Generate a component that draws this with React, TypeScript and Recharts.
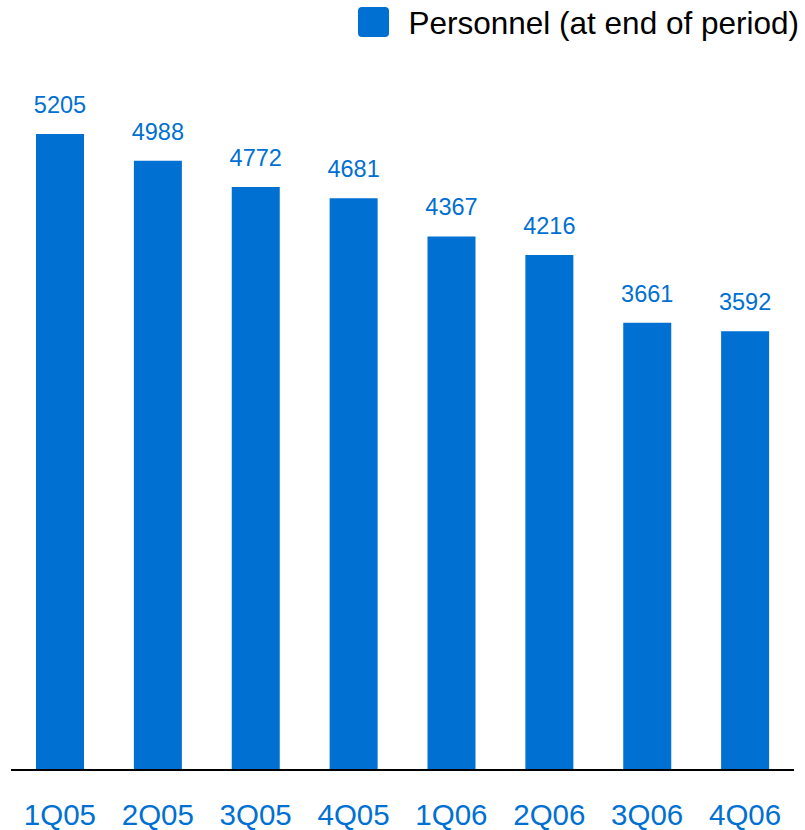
import React from "react";
import { BarChart, Bar, XAxis, YAxis, Legend, LabelList } from "recharts";

const quarters = ["1Q05", "2Q05", "3Q05", "4Q05", "1Q06", "2Q06", "3Q06", "4Q06"];
const personnel = [5205, 4988, 4772, 4681, 4367, 4216, 3661, 3592];
const seriesName = "Personnel (at end of period)";

const BLUE = "#0070D2";
const FONT = "'Liberation Sans', Arial, sans-serif";

const data = quarters.map((q, i) => ({ quarter: q, value: personnel[i] }));

// legend drawn as a right-aligned swatch + label
function LegendBox() {
  return (
    <div style={{ position: "relative", width: 805, height: 37, fontFamily: FONT }}>
      <div
        style={{
          position: "absolute",
          right: 6,
          top: 7,
          display: "flex",
          alignItems: "flex-start",
        }}
      >
        <div style={{ width: 31, height: 30, borderRadius: 4, background: BLUE }} />
        <span style={{ marginLeft: 20, marginTop: 1, fontSize: 31.5, lineHeight: "31px", color: "#000", whiteSpace: "nowrap" }}>
          {seriesName}
        </span>
      </div>
    </div>
  );
}

export default function App() {
  return (
    <div style={{ position: "absolute", left: 0, top: 0, fontFamily: FONT }}>
      <BarChart width={805} height={830} data={data} margin={{ top: 0, right: 11, left: 11, bottom: 0 }}>
        <Legend
          verticalAlign="top"
          align="right"
          content={() => <LegendBox />}
          wrapperStyle={{ left: 0, top: 0, width: 805 }}
        />
        <XAxis
          dataKey="quarter"
          height={60}
          tickLine={false}
          axisLine={{ stroke: "#000", strokeWidth: 2 }}
          tickMargin={28}
          tick={{ fill: BLUE, fontSize: 29.5, fontFamily: FONT }}
          interval={0}
        />
        <YAxis hide domain={[0, 6000]} />
        <Bar dataKey="value" name={seriesName} fill={BLUE} barSize={48} isAnimationActive={false}>
          <LabelList dataKey="value" position="top" offset={21} fill={BLUE} fontSize={23.5} fontFamily={FONT} />
        </Bar>
      </BarChart>
    </div>
  );
}
